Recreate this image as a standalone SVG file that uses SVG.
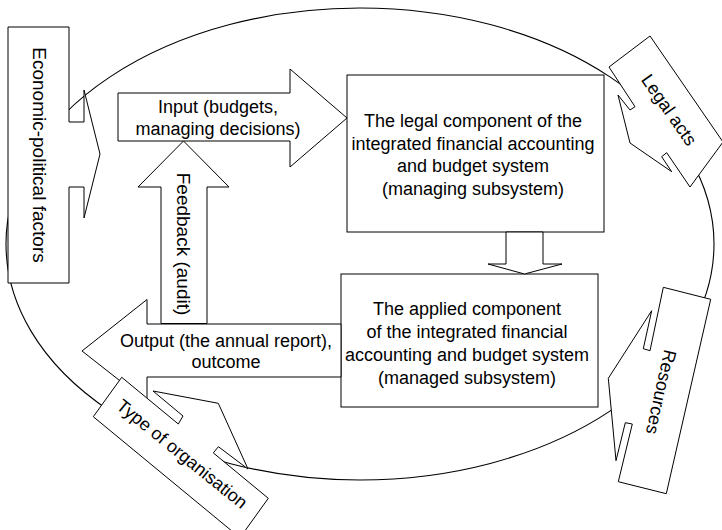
<svg xmlns="http://www.w3.org/2000/svg" width="722" height="530" viewBox="0 0 722 530">
  <style>
    .shape { fill: #ffffff; stroke: #000000; stroke-width: 1; stroke-linejoin: miter; }
    .ring { fill: none; stroke: #000000; stroke-width: 1.1; }
    text { font-family: "Liberation Sans", Arial, sans-serif; font-size: 18px; fill: #000000; }
    .c { text-anchor: middle; }
    .big { font-size: 19px; }
  </style>
  <rect width="722" height="530" fill="#ffffff"/>

  <!-- environment boundary -->
  <g id="environment">
    <ellipse class="ring" cx="360" cy="244" rx="354" ry="236"/>
  </g>

  <!-- system boxes -->
  <g id="managing-subsystem">
    <rect class="shape" x="347" y="75" width="257" height="157"/>
    <text class="c" x="473" y="127">The legal component of the</text>
    <text class="c" x="473" y="149.5">integrated financial accounting</text>
    <text class="c" x="473" y="172">and budget system</text>
    <text class="c" x="473" y="194.5">(managing subsystem)</text>
  </g>

  <g id="managed-subsystem">
    <rect class="shape" x="341" y="274" width="257" height="133"/>
    <text class="c" x="467" y="314.5">The applied component</text>
    <text class="c" x="467" y="337.5">of the integrated financial</text>
    <text class="c" x="467" y="361">accounting and budget system</text>
    <text class="c" x="467" y="384">(managed subsystem)</text>
  </g>

  <!-- block arrows between the parts -->
  <g id="connectors">
    <g id="input">
      <polygon class="shape" points="118,93 290,93 290,69 347,118 290,167 290,141 118,141"/>
      <text class="c" x="218" y="113">Input (budgets,</text>
      <text class="c" x="218" y="135">managing decisions)</text>
    </g>
    <g id="feedback">
      <polygon class="shape" points="161,323.5 161,187 138,187 183.5,141 229,187 207,187 207,323.5"/>
      <text class="c big" transform="translate(177.2,244) rotate(90)">Feedback (audit)</text>
    </g>
    <g id="control">
      <polygon class="shape" points="506,232 506,264 488,264 524.5,274 562,264 543,264 543,232"/>
    </g>
    <g id="output">
      <polygon class="shape" points="341,324 147,324 147,299.5 82,351 147,402 147,377 341,377"/>
      <text class="c" x="226" y="347">Output (the annual report),</text>
      <text class="c" x="226" y="368">outcome</text>
    </g>
  </g>

  <!-- external factors -->
  <g id="economic-political">
    <polygon class="shape" points="8,27 69,27 69,122 84,122 84,90 100,154 84,218 84,187 69,187 69,283 8,283"/>
    <text class="c big" transform="translate(33,155) rotate(90)">Economic-political factors</text>
  </g>

  <g id="legal-acts">
    <polygon class="shape" points="609,67 650,36 723,142 690,187 666.7,152.7 661.7,156.7 671.7,171.7 630,143 618,95 630,110 635,106.7"/>
    <text class="c" transform="translate(669,110) rotate(55)" y="6">Legal acts</text>
  </g>

  <g id="resources">
    <polygon class="shape" points="663.3,287.3 710.7,299.3 666.3,493.7 618.3,481.7 632.3,424 625.3,422.7 616,460.7 608.3,378.3 651.7,310.7 643.3,348.7 650,350.7"/>
    <text class="c" transform="translate(661,392) rotate(102.6)" y="6">Resources</text>
  </g>

  <g id="organisation-type">
    <polygon class="shape" points="121.7,377.3 178.3,424 183,416 153,391 218.3,403.3 248,469 218.4,446.7 213.3,452.9 268.3,498.3 240,537.7 93.3,416.7"/>
    <text class="c" transform="translate(182,454) rotate(39)" y="6">Type of organisation</text>
  </g>
</svg>
